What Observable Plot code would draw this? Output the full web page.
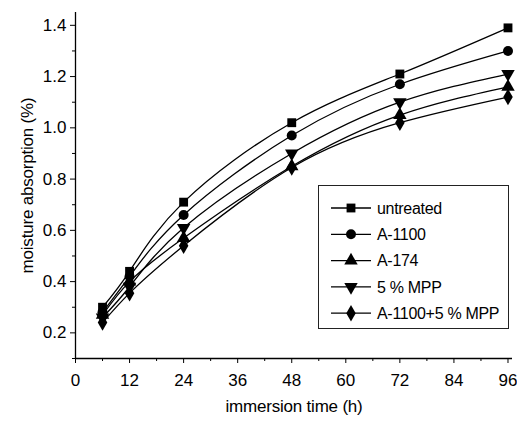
<!DOCTYPE html>
<html>
<head>
<meta charset="utf-8">
<script src="https://cdn.jsdelivr.net/npm/d3@7"></script>
<script src="https://cdn.jsdelivr.net/npm/@observablehq/plot@0.6"></script>
<style>
  html, body { margin: 0; padding: 0; background: #fff; }
  #wrap { position: relative; width: 517px; height: 421px; overflow: hidden; }
  #legend { position: absolute; left: 318px; top: 185px; width: 191px; height: 144px;
            border: 1px solid #222; background: #fff; box-sizing: border-box; }
</style>
</head>
<body>
<div id="wrap"><div id="legend"></div></div>
<script>
// ---- data ----
const hours = [6, 12, 24, 48, 72, 96];
const seriesNames = ["untreated", "A-1100", "A-174", "5 % MPP", "A-1100+5 % MPP"];
const untreated = [0.30, 0.44, 0.71, 1.02, 1.21, 1.39];
const a1100     = [0.28, 0.42, 0.66, 0.97, 1.17, 1.30];
const a174      = [0.27, 0.40, 0.57, 0.85, 1.05, 1.16];
const mpp5      = [0.26, 0.38, 0.61, 0.90, 1.10, 1.21];
const a1100mpp  = [0.24, 0.355, 0.54, 0.845, 1.02, 1.12];
const xTicks = [0, 12, 24, 36, 48, 60, 72, 84, 96];
const yTicks = [0.2, 0.4, 0.6, 0.8, 1.0, 1.2, 1.4];

// custom downward triangle
const triangleDown = {
  draw(context, size) {
    const y = -Math.sqrt(size / (Math.sqrt(3) * 3));
    context.moveTo(0, -y * 2);
    context.lineTo(-Math.sqrt(3) * y, y);
    context.lineTo(Math.sqrt(3) * y, y);
    context.closePath();
  }
};
const symbols = [d3.symbolSquare, d3.symbolCircle, d3.symbolTriangle, triangleDown, d3.symbolDiamond];
const allValues = [untreated, a1100, a174, mpp5, a1100mpp];

const data = [];
allValues.forEach((vals, i) => vals.forEach((v, j) => data.push({series: seriesNames[i], idx: i, x: hours[j], y: v})));

const minorX = d3.range(6, 97, 12);
const minorY = d3.range(0.1, 1.45, 0.2).map(v => +v.toFixed(2));

const chart = Plot.plot({
  width: 517,
  height: 421,
  marginLeft: 75,
  marginRight: 5,
  marginTop: 12,
  marginBottom: 63,
  style: {fontFamily: "'Liberation Sans', Arial, sans-serif", color: "#000", background: "transparent"},
  x: {domain: [0, 97]},
  y: {domain: [0.1, 1.45]},
  symbol: {domain: seriesNames, range: symbols},
  marks: [
    Plot.axisX(xTicks, {tickSize: 5, tickPadding: 10, fontSize: 17, label: "immersion time (h)",
      labelAnchor: "center", labelArrow: "none", labelOffset: 53, tickFormat: d => d}),
    Plot.axisX(minorX, {tickSize: 3, tickFormat: () => "", label: null}),
    Plot.axisY(yTicks, {tickSize: 5, tickPadding: 4, fontSize: 17, tickFormat: d3.format(".1f"),
      label: "moisture absorption (%)", labelAnchor: "center", labelArrow: "none", labelOffset: 55}),
    Plot.axisY(minorY, {tickSize: 3, tickFormat: () => "", label: null}),
    Plot.ruleX([0], {stroke: "#000", strokeWidth: 1.3}),
    Plot.ruleY([0.1], {stroke: "#000", strokeWidth: 1.3}),
    Plot.line(data, {x: "x", y: "y", z: "series", curve: "natural", stroke: "#000", strokeWidth: 1.3}),
    Plot.dot(data, {x: "x", y: "y", symbol: "series", r: 5, fill: "#000", stroke: "none"})
  ]
});
chart.querySelectorAll("g[aria-label='x-axis label'] text, g[aria-label='y-axis label'] text")
  .forEach(t => { t.setAttribute("font-size", "17"); t.setAttribute("letter-spacing", "-0.2"); });
document.getElementById("wrap").prepend(chart);

// legend overlay
const lw = 191, lh = 144;
const lsvg = d3.select("#legend").append("svg").attr("width", lw - 2).attr("height", lh - 2);
seriesNames.forEach((name, i) => {
  const cy = 22 + i * 26.3;
  const g = lsvg.append("g").attr("transform", `translate(0,${cy})`);
  g.append("line").attr("x1", 12).attr("x2", 52).attr("y1", 0).attr("y2", 0).attr("stroke", "#000").attr("stroke-width", 1.3);
  g.append("path").attr("transform", "translate(32,0)").attr("d", d3.symbol(symbols[i], 78)()).attr("fill", "#000");
  g.append("text").attr("x", 58).attr("y", 0).attr("dy", "0.35em")
    .attr("font-family", "'Liberation Sans', Arial, sans-serif").attr("font-size", 16)
    .attr("letter-spacing", "-0.3").text(name);
});
</script>
</body>
</html>
